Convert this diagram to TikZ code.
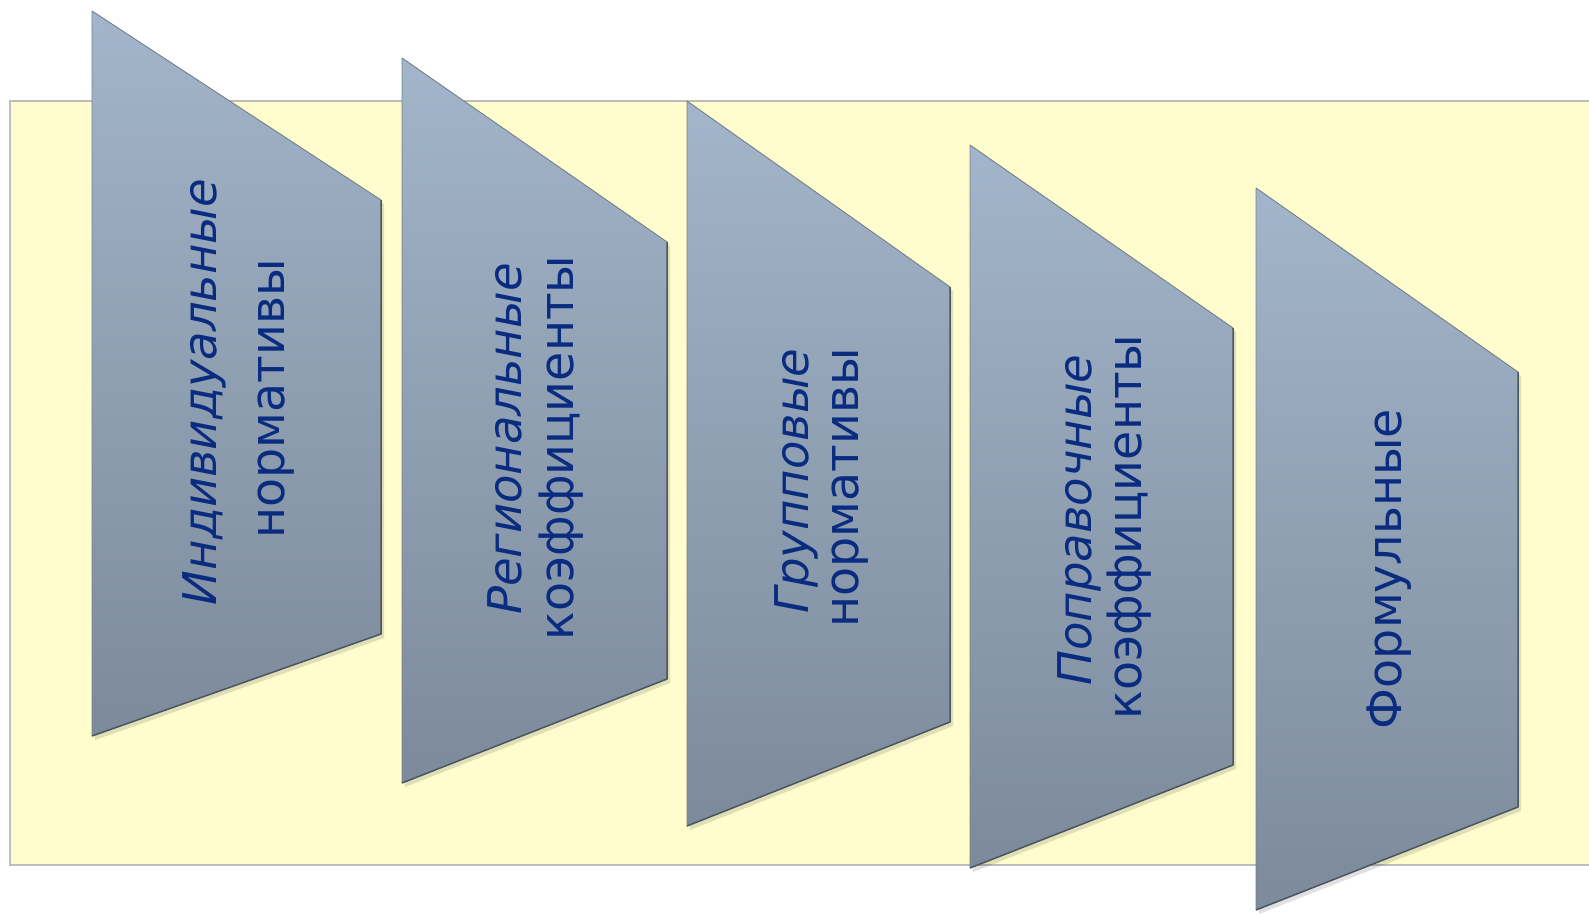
\documentclass[tikz,border=0pt]{standalone}
\usepackage{fontspec}
\setmainfont{DejaVu Sans}
\definecolor{bgfill}{HTML}{FFFDCD}
\definecolor{bgline}{HTML}{BDBDBD}
\definecolor{shtop}{HTML}{A3B5CA}
\definecolor{shbot}{HTML}{7C8A9B}
\definecolor{shedge}{HTML}{4B5561}
\definecolor{shtopedge}{HTML}{76838F}
\definecolor{txtc}{HTML}{0A2C80}
\tikzset{
  backpanel/.style={fill=bgfill},
  backline/.style={draw=bgline, line width=1.2pt},
  panelfill/.style={top color=shtop, bottom color=shbot, draw=none},
  paneledge/.style={draw=shedge, line width=1.5pt, line join=round},
  paneltop/.style={draw=shtopedge, line width=0.9pt, line join=round},
  panelshadow/.style={fill=black, opacity=0.12},
  lbl/.style={text=txtc, font=\fontsize{47.5}{52}\selectfont, rotate=90, anchor=base, inner sep=0pt},
  lblit/.style={lbl, font=\fontsize{46.5}{52}\selectfont\itshape},
}
\begin{document}
\begin{tikzpicture}[x=1pt,y=-1pt]
\useasboundingbox (0,0) rectangle (1589,913);
% background band
\fill[backpanel] (10,101) rectangle (1600,865);
\draw[backline] (1600,101) -- (10,101) -- (10,865) -- (1600,865);
% panels
\foreach \xl/\xr/\ytl/\ytr/\ybr/\ybl in {92/381/11/200/634/736, 402/667/58/242/679/783, 687/950/101/287/722/826, 970/1233/145/328/765/868, 1256/1518/188/372/807/910}{
  \fill[panelshadow] (\xl+3,\ytl+4) -- (\xr+3,\ytr+4) -- (\xr+3,\ybr+4) -- (\xl+3,\ybl+4) -- cycle;
  \fill[panelfill] (\xl,\ytl) -- (\xr,\ytr) -- (\xr,\ybr) -- (\xl,\ybl) -- cycle;
  \draw[paneltop] (\xl,\ybl) -- (\xl,\ytl) -- (\xr,\ytr);
  \draw[paneledge] (\xr,\ytr) -- (\xr,\ybr) -- (\xl,\ybl);
}
% labels
\node[lblit] (t1a) at (216,392) {Индивидуальные};
\node[lbl]   (t1b) at (284,399) {нормативы};
\node[lblit] (t2a) at (521,439) {Региональные};
\node[lbl]   (t2b) at (573,448) {коэффициенты};
\node[lblit] (t3a) at (808,481) {Групповые};
\node[lbl]   (t3b) at (858,488) {нормативы};
\node[lblit] (t4a) at (1091,520) {Поправочные};
\node[lbl]   (t4b) at (1141,527) {коэффициенты};
\node[lbl]   (t5)  at (1401,569) {Формульные};
\end{tikzpicture}
\end{document}
